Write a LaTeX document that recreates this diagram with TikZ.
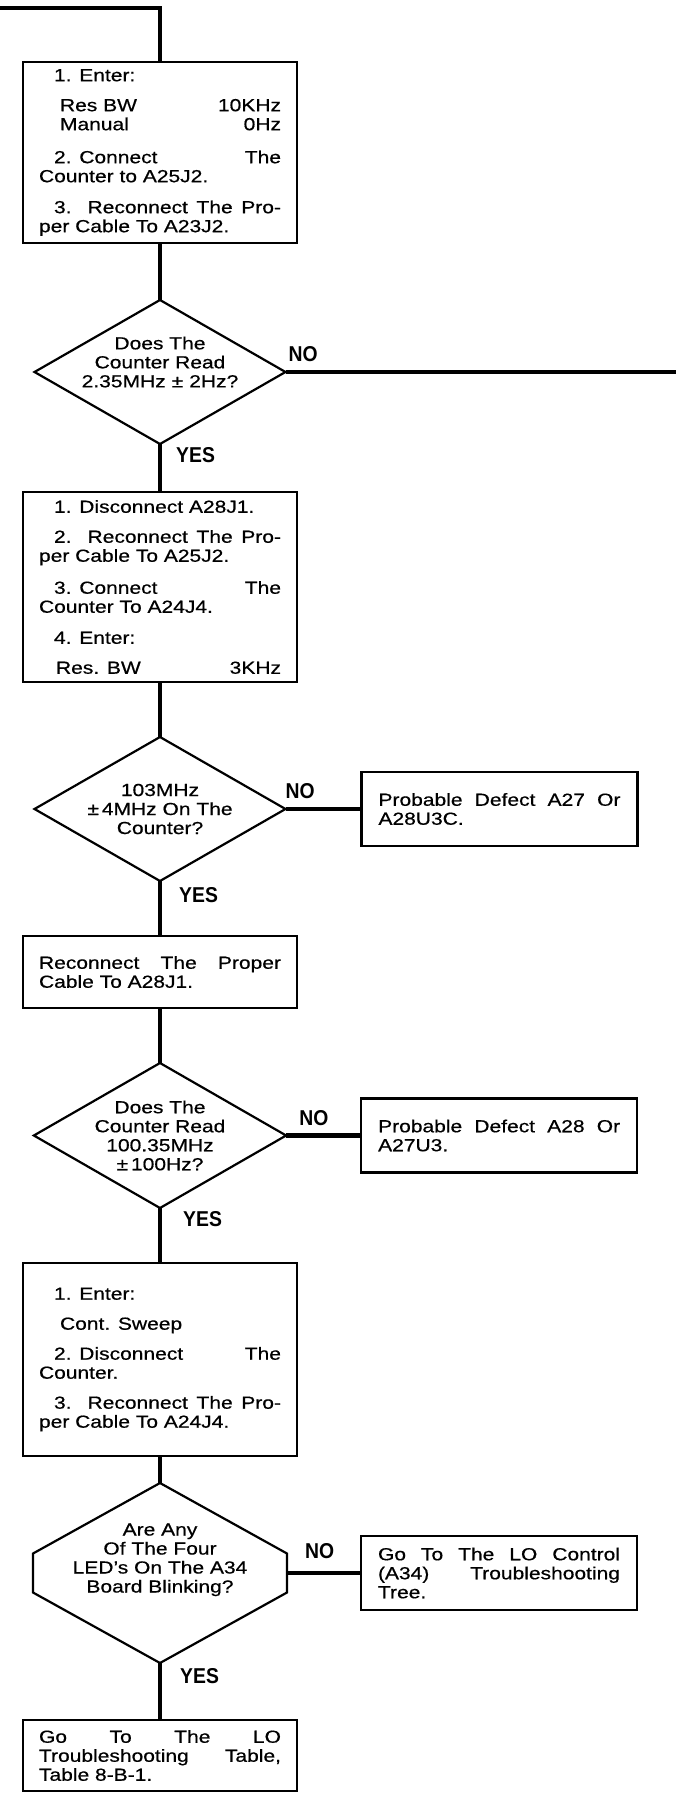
\documentclass[tikz,border=0pt]{standalone}
\usepackage{fontspec}
\setmainfont{Liberation Sans}[FakeStretch=1.2, FakeBold=0.6]
\newfontfamily\lblfont{Liberation Sans}[FakeStretch=0.9]
\usepackage{tikz}
\usetikzlibrary{shapes.geometric, positioning, calc}
\setlength{\parindent}{0pt}

\begin{document}
\begin{tikzpicture}[
  x=1pt, y=1pt,
  every node/.style={font=\fontsize{17.5}{19}\selectfont},
  stepbox/.style={rectangle, draw, line width=2.4pt, text width=242pt, inner xsep=16pt, inner ysep=0pt, outer sep=0pt, align=justify},
  sidebox/.style={stepbox, inner xsep=17pt, minimum height=74pt},
  query/.style={diamond, draw, line width=2.2pt, aspect=1.74, inner sep=0pt, outer sep=0pt, minimum width=251pt, minimum height=144pt, align=center},
  hexbox/.style={rectangle, minimum width=254pt, minimum height=180pt, inner sep=0pt, outer sep=0pt, align=center, text depth=30pt},
  hexline/.style={line width=2.2pt},
  answer/.style={font=\lblfont\bfseries\fontsize{21.5}{22}\selectfont, inner sep=0pt},
  wire/.style={line width=4.5pt}
]
  \useasboundingbox (0,0) rectangle (676,-1795);

  \node[stepbox, minimum height=181pt] (set1) at (160,-152.5) {%
    \hspace*{15pt}1. Enter:\par\vspace{11pt}
    \hspace*{21pt}Res BW\hfill 10KHz\par
    \hspace*{21pt}Manual\hfill 0Hz\par\vspace{14pt}
    \hspace*{15pt}2. Connect\hfill The\linebreak Counter to A25J2.\par\vspace{12pt}
    \hspace*{15pt}3. Reconnect The Pro-\linebreak per Cable To A23J2.};
  \node[query, text depth=20pt, inner ysep=-10pt, below=57pt of set1] (chk1) {Does The\\Counter Read\\2.35MHz\hspace{6pt}±\hspace{6pt}2Hz?};
  \node[stepbox, minimum height=190pt, below=48pt of chk1] (set2) {%
    \hspace*{15pt}1. Disconnect A28J1.\par\vspace{11pt}
    \hspace*{15pt}2. Reconnect The Pro-\linebreak per Cable To A25J2.\par\vspace{13pt}
    \hspace*{15pt}3. Connect\hfill The\linebreak Counter To A24J4.\par\vspace{12pt}
    \hspace*{15pt}4. Enter:\par\vspace{11pt}
    \hspace*{17pt}Res. BW\hfill 3KHz\hspace*{5pt}};
  \node[query, below=55pt of set2] (chk2) {103MHz\\±\,4MHz On The\\Counter?};
  \node[stepbox, minimum height=72pt, below=55pt of chk2] (recon) {Reconnect The Proper\linebreak Cable To A28J1.};
  \node[query, below=55pt of recon] (chk3) {Does The\\Counter Read\\100.35MHz\\±\,100Hz?};
  \node[stepbox, minimum height=193pt, below=55pt of chk3] (set3) {%
    \hspace*{15pt}1. Enter:\par\vspace{11pt}
    \hspace*{21pt}Cont. Sweep\par\vspace{11pt}
    \hspace*{15pt}2. Disconnect\hfill The\linebreak Counter.\par\vspace{11pt}
    \hspace*{15pt}3. Reconnect The Pro-\linebreak per Cable To A24J4.};
  \node[hexbox, below=27pt of set3] (chk4) {Are Any\\Of The Four\\LED's On The A34\\Board Blinking?};
  \node[stepbox, minimum height=71pt, below=57pt of chk4] (lotab) {Go To The LO\linebreak Troubleshooting Table,\linebreak Table 8-B-1.};

  \node[sidebox, right=76pt of chk2] (def1) {Probable Defect A27 Or\linebreak A28U3C.};
  \node[sidebox, right=75pt of chk3] (def2) {Probable Defect A28 Or\linebreak A27U3.};
  \node[sidebox, right=74pt of chk4] (def3) {Go To The LO Control\linebreak (A34) Troubleshooting\linebreak Tree.};

  \draw[hexline] (chk4.north) -- ($(chk4.west)+(0,19.5)$) -- ($(chk4.west)+(0,-19.5)$) -- (chk4.south)
    -- ($(chk4.east)+(0,-19.5)$) -- ($(chk4.east)+(0,19.5)$) -- cycle;

  \coordinate (entry) at (0,-8);
  \coordinate[right=391pt of chk1.east] (exit);

  \node[answer, above right=10pt and 3pt of chk1.east] (no1) {NO};
  \node[answer, above right=10pt and 0pt of chk2.east] (no2) {NO};
  \node[answer, above right=10pt and 13pt of chk3.east] (no3) {NO};
  \node[answer, above right=14pt and 18pt of chk4.east] (no4) {NO};
  \node[answer, below right=3pt and 16pt of chk1.south] (yes1) {YES};
  \node[answer, below right=6pt and 19pt of chk2.south] (yes2) {YES};
  \node[answer, below right=3pt and 23pt of chk3.south] (yes3) {YES};
  \node[answer, below right=5pt and 20pt of chk4.south] (yes4) {YES};

  \draw[wire] (entry) -| (set1);
  \draw[wire] (set1) -- (chk1);
  \draw[wire] (chk1) -- (exit);
  \draw[wire] (chk1) -- (set2);
  \draw[wire] (set2) -- (chk2);
  \draw[wire] (chk2) -- (def1);
  \draw[wire] (chk2) -- (recon);
  \draw[wire] (recon) -- (chk3);
  \draw[wire] (chk3) -- (def2);
  \draw[wire] (chk3) -- (set3);
  \draw[wire] (set3) -- (chk4);
  \draw[wire] (chk4) -- (def3);
  \draw[wire] (chk4) -- (lotab);
\end{tikzpicture}
\end{document}
